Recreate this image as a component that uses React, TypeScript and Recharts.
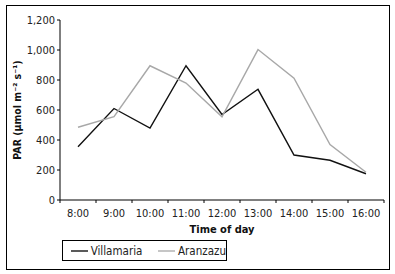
import React from "react";
import { LineChart, Line, XAxis, YAxis, Legend } from "recharts";

const times = ["8:00", "9:00", "10:00", "11:00", "12:00", "13:00", "14:00", "15:00", "16:00"];
const villamaria = [355, 610, 480, 895, 570, 738, 300, 265, 175];
const aranzazu = [485, 555, 895, 780, 555, 1003, 812, 370, 185];
const yTicks = [0, 200, 400, 600, 800, 1000, 1200];

const data = times.map((t, i) => ({ t, villamaria: villamaria[i], aranzazu: aranzazu[i] }));

const FONT = "'DejaVu Sans Condensed', 'Liberation Sans Narrow', 'Arial Narrow', sans-serif";

const XTick = (props: any) => {
  const { x, y, payload, index, visibleTicksCount } = props;
  const half = payload && payload.offset ? payload.offset : 18;
  const axisY = y - 8;
  return (
    <g>
      <line x1={x - half} x2={x - half} y1={axisY} y2={axisY + 3} stroke="#000" />
      {index === visibleTicksCount - 1 && (
        <line x1={x + half} x2={x + half} y1={axisY} y2={axisY + 3} stroke="#000" />
      )}
      <text x={x} y={y + 9} textAnchor="middle" fontSize={11} fill="#222" fontFamily={FONT}>
        {payload.value}
      </text>
    </g>
  );
};

const yFmt = (v: number) => v.toLocaleString("en-US");

const YLabel = (props: any) => {
  const vb = props.viewBox || { x: 0, y: 0, width: 60, height: 180 };
  const cx = vb.x + 18;
  const cy = vb.y + vb.height / 2;
  return (
    <text
      x={cx}
      y={cy}
      transform={`rotate(-90, ${cx}, ${cy})`}
      textAnchor="middle"
      dominantBaseline="middle"
      fontSize={10.5}
      fontWeight="bold"
      fill="#111"
      fontFamily={FONT}
    >
      PAR (µmol m⁻² s⁻¹)
    </text>
  );
};

const XLabel = (props: any) => {
  const vb = props.viewBox || { x: 60, y: 200, width: 324, height: 30 };
  return (
    <text
      x={vb.x + vb.width / 2}
      y={vb.y + 33}
      textAnchor="middle"
      fontSize={11}
      fontWeight="bold"
      fill="#111"
      fontFamily={FONT}
    >
      Time of day
    </text>
  );
};

const LegendBox = () => (
  <div
    style={{
      boxSizing: "border-box",
      width: 165,
      height: 21,
      border: "1px solid #000",
      background: "#fff",
      display: "flex",
      alignItems: "center",
      fontFamily: FONT,
      fontSize: 11.5,
      color: "#222",
    }}
  >
    <svg width={26} height={10} style={{ marginLeft: 6 }}>
      <line x1={2} x2={22} y1={5} y2={5} stroke="#000" strokeWidth={1.3} />
    </svg>
    <span style={{ marginLeft: 3 }}>Villamaria</span>
    <svg width={26} height={10} style={{ marginLeft: 14 }}>
      <line x1={2} x2={22} y1={5} y2={5} stroke="#a8a8a8" strokeWidth={1.3} />
    </svg>
    <span style={{ marginLeft: 3 }}>Aranzazu</span>
  </div>
);

export default function App() {
  return (
    <div style={{ position: "absolute", left: 0, top: 0, width: 395, height: 274, background: "#fff" }}>
      <div
        style={{
          position: "absolute",
          left: 6,
          top: 5,
          width: 384,
          height: 265,
          border: "1px solid #000",
          boxSizing: "border-box",
        }}
      />
      <div style={{ position: "absolute", left: 0, top: 0 }}>
        <LineChart width={395} height={274} data={data} margin={{ top: 20, right: 11, left: 0, bottom: 44 }}>
          <XAxis
            dataKey="t"
            scale="band"
            height={30}
            axisLine={{ stroke: "#000" }}
            tickLine={false}
            tick={<XTick />}
            interval={0}
            label={<XLabel />}
          />
          <YAxis
            width={60}
            domain={[0, 1200]}
            ticks={yTicks}
            tickFormatter={yFmt}
            axisLine={{ stroke: "#000" }}
            tickLine={{ stroke: "#000" }}
            tickSize={3}
            tick={{ fontSize: 11, fill: "#222", fontFamily: FONT }}
            label={<YLabel />}
          />
          <Legend
            layout="horizontal"
            verticalAlign="middle"
            align="center"
            wrapperStyle={{ position: "absolute", left: 62, top: 240, width: 165, height: 21 }}
            content={<LegendBox />}
          />
          <Line
            type="linear"
            dataKey="villamaria"
            name="Villamaria"
            stroke="#111"
            strokeWidth={1.4}
            dot={false}
            isAnimationActive={false}
          />
          <Line
            type="linear"
            dataKey="aranzazu"
            name="Aranzazu"
            stroke="#a8a8a8"
            strokeWidth={1.4}
            dot={false}
            isAnimationActive={false}
          />
        </LineChart>
      </div>
    </div>
  );
}
